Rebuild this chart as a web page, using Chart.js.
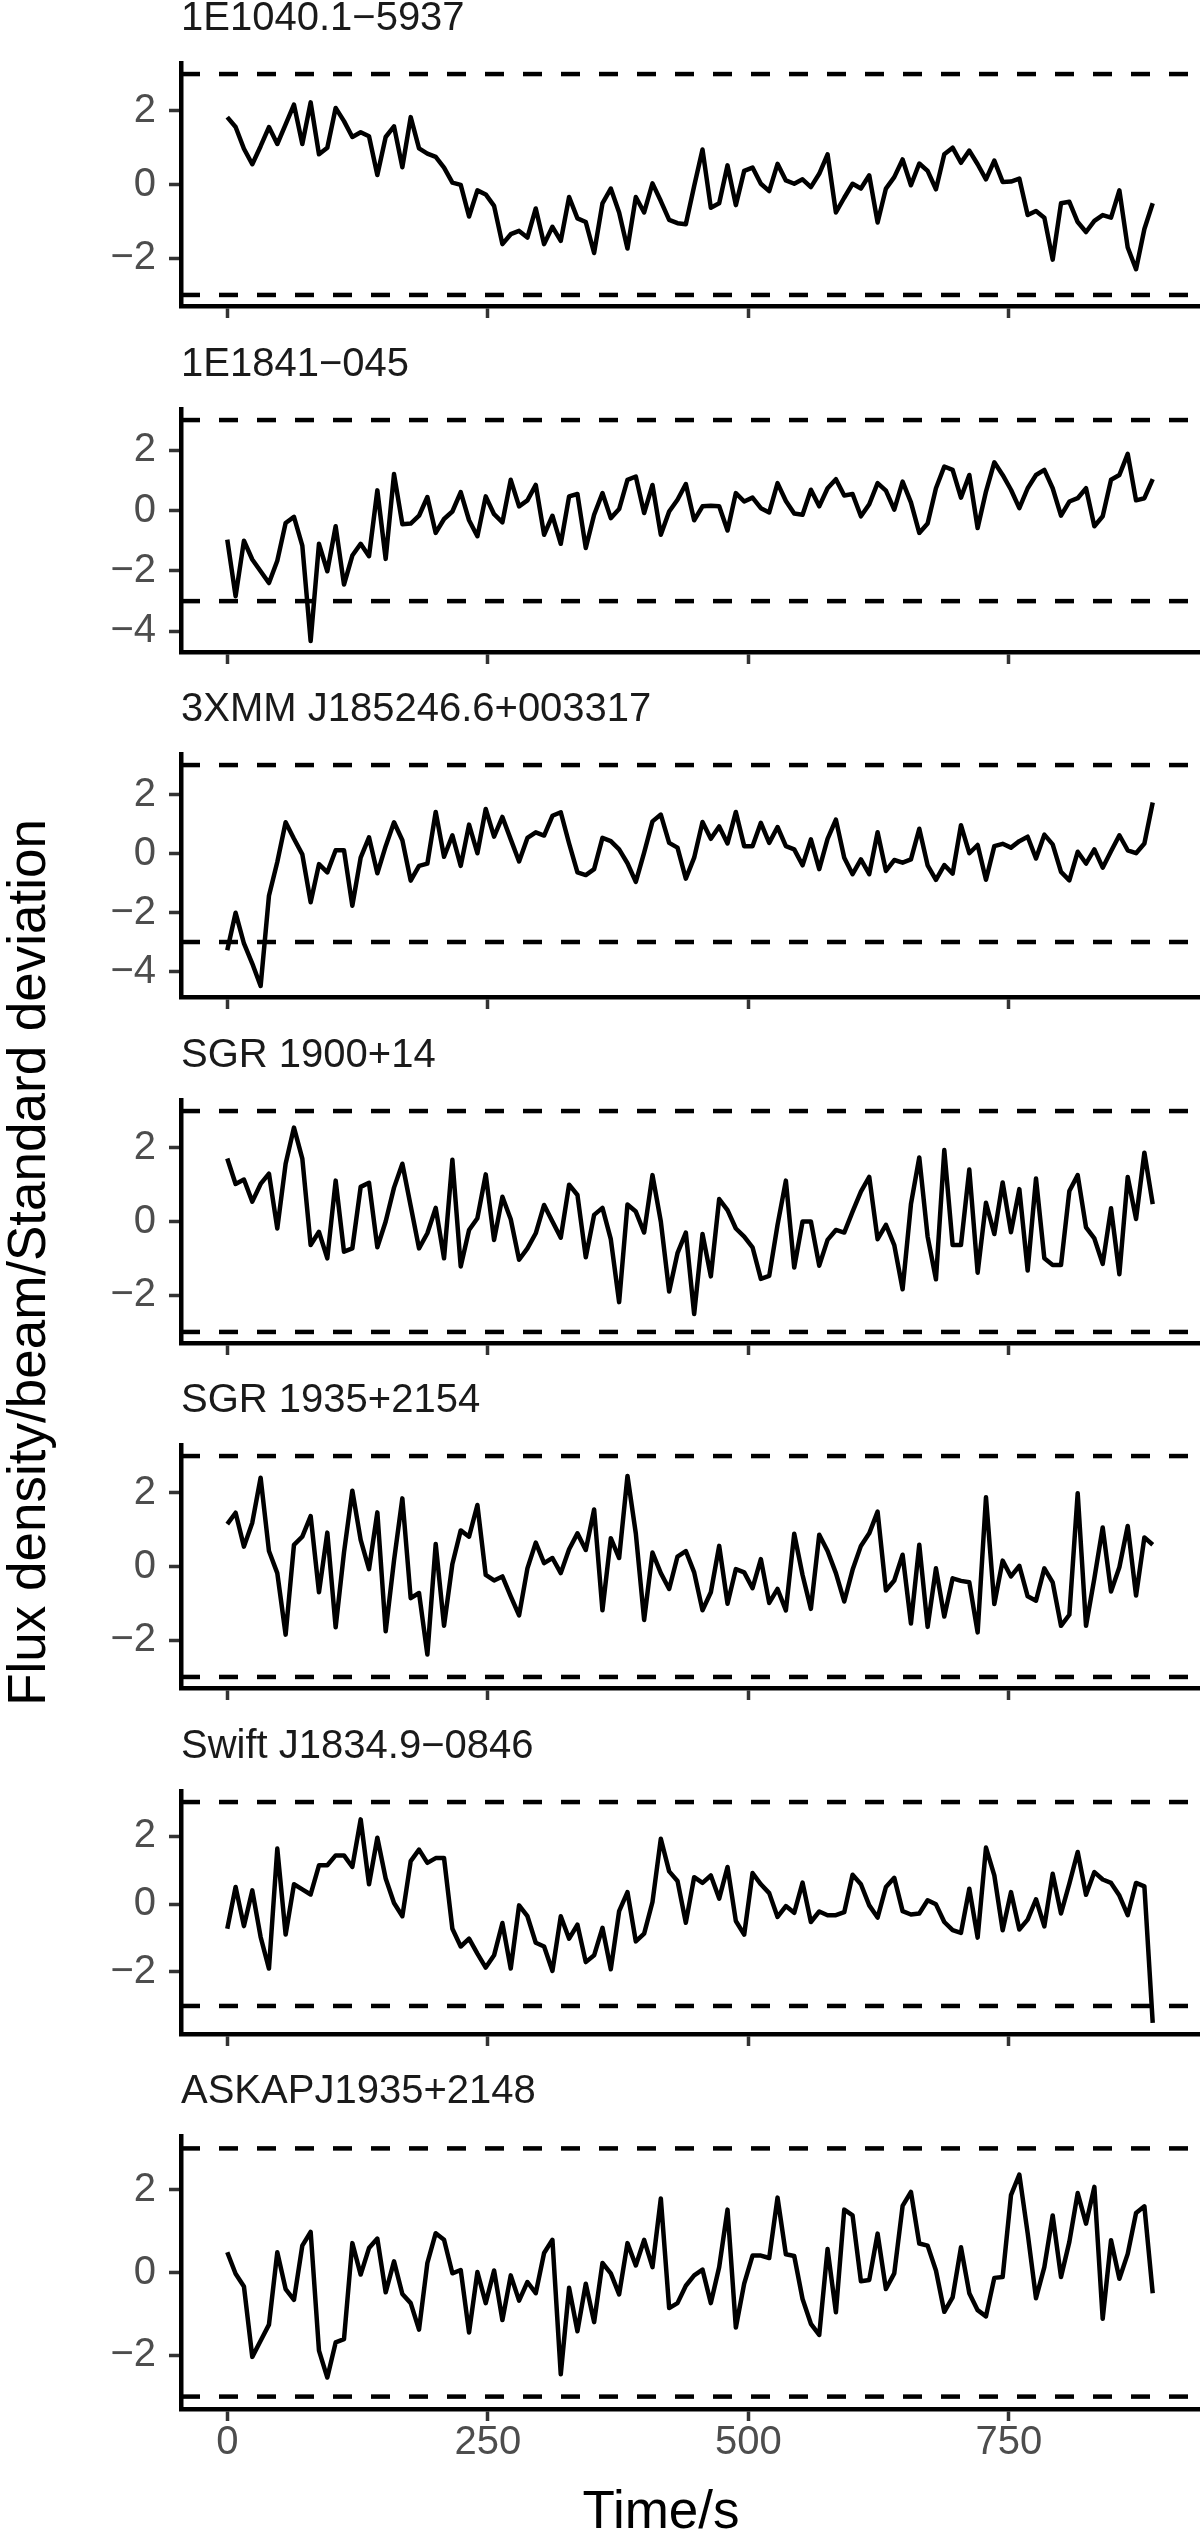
<!DOCTYPE html>
<html>
<head>
<meta charset="utf-8">
<script src="https://cdn.jsdelivr.net/npm/chart.js@4"></script>
<style>
  html, body { margin: 0; padding: 0; background: #fff; }
  #page { position: relative; width: 1200px; height: 2530px; overflow: hidden;
          font-family: 'Liberation Sans', Arial, sans-serif; }
  #page canvas { position: absolute; left: 0; }
  #ylab { position: absolute; left: 0; top: 63px; width: 53px; height: 2398px;
          display: flex; align-items: center; justify-content: center; }
  #ylab span { writing-mode: vertical-rl; transform: rotate(180deg); font-size: 53px;
               line-height: 1; white-space: nowrap; color: #000; }
  #xlab { position: absolute; left: 461px; width: 400px; top: 2483px; text-align: center;
          font-size: 53px; line-height: 1; color: #000; white-space: nowrap; }
</style>
</head>
<body>
<div id="page">
  <div id="ylab"><span>Flux density/beam/Standard deviation</span></div>
  <div id="xlab">Time/s</div>
</div>
<script>
// time grid (s)
const seconds = [0,8,16,24,32,40,48,56,64,72,
  80,88,96,104,112,120,128,136,144,152,
  160,168,176,184,192,200,208,216,224,232,
  240,248,256,264,272,280,288,296,304,312,
  320,328,336,344,352,360,368,376,384,392,
  400,408,416,424,432,440,448,456,464,472,
  480,488,496,504,512,520,528,536,544,552,
  560,568,576,584,592,600,608,616,624,632,
  640,648,656,664,672,680,688,696,704,712,
  720,728,736,744,752,760,768,776,784,792,
  800,808,816,824,832,840,848,856,864,872,
  880,888];

const sourceNames = ['1E1040.1\u22125937', '1E1841\u2212045', '3XMM J185246.6+003317',
  'SGR 1900+14', 'SGR 1935+2154', 'Swift J1834.9\u22120846', 'ASKAPJ1935+2148'];

const s1E1040 = [1.83,1.56,0.97,0.55,1.04,1.56,1.10,1.63,2.17,1.10,
  2.23,0.82,1.00,2.08,1.72,1.29,1.42,1.31,0.26,1.29,
  1.58,0.47,1.83,0.98,0.84,0.75,0.46,0.05,-0.01,-0.87,
  -0.16,-0.27,-0.58,-1.62,-1.35,-1.26,-1.44,-0.65,-1.62,-1.15,
  -1.53,-0.34,-0.92,-1.02,-1.86,-0.51,-0.11,-0.76,-1.74,-0.34,
  -0.76,0.03,-0.45,-0.96,-1.05,-1.08,-0.04,0.95,-0.63,-0.51,
  0.52,-0.56,0.37,0.46,0.02,-0.18,0.56,0.11,0.02,0.14,
  -0.07,0.29,0.82,-0.76,-0.36,0.02,-0.11,0.25,-1.03,-0.11,
  0.20,0.68,-0.02,0.57,0.37,-0.13,0.82,1.00,0.59,0.92,
  0.55,0.14,0.65,0.07,0.08,0.16,-0.83,-0.72,-0.90,-2.04,
  -0.51,-0.47,-1.02,-1.29,-0.99,-0.83,-0.90,-0.16,-1.71,-2.30,
  -1.21,-0.51];

const s1E1841 = [-0.96,-2.84,-1.00,-1.62,-2.01,-2.40,-1.66,-0.41,-0.21,-1.16,
  -4.32,-1.10,-2.01,-0.52,-2.45,-1.49,-1.10,-1.51,0.67,-1.60,
  1.21,-0.45,-0.43,-0.17,0.45,-0.74,-0.28,-0.03,0.61,-0.32,
  -0.85,0.47,-0.12,-0.39,1.02,0.14,0.34,0.85,-0.80,-0.17,
  -1.10,0.47,0.55,-1.24,-0.14,0.58,-0.25,0.05,1.02,1.13,
  -0.08,0.85,-0.80,-0.03,0.36,0.88,-0.32,0.14,0.16,0.14,
  -0.66,0.58,0.30,0.43,0.08,-0.06,0.91,0.32,-0.10,-0.14,
  0.69,0.14,0.74,1.04,0.50,0.55,-0.19,0.21,0.91,0.66,
  0.03,0.96,0.27,-0.74,-0.43,0.74,1.46,1.35,0.43,1.18,
  -0.58,0.63,1.60,1.18,0.69,0.08,0.74,1.18,1.35,0.74,
  -0.17,0.30,0.41,0.74,-0.52,-0.19,1.02,1.18,1.88,0.34,
  0.41,1.04];

const s3XMM = [-3.28,-2.01,-3.05,-3.73,-4.49,-1.43,-0.29,1.06,0.50,-0.03,
  -1.65,-0.36,-0.64,0.11,0.11,-1.77,-0.14,0.55,-0.67,0.25,
  1.06,0.45,-0.92,-0.42,-0.34,1.41,-0.11,0.62,-0.42,0.98,
  0.01,1.51,0.57,1.24,0.48,-0.27,0.53,0.72,0.61,1.28,
  1.40,0.34,-0.64,-0.73,-0.53,0.53,0.42,0.14,-0.33,-0.96,
  0.03,1.09,1.32,0.36,0.20,-0.85,-0.14,1.07,0.50,0.92,
  0.34,1.41,0.25,0.25,1.04,0.36,0.90,0.25,0.14,-0.40,
  0.48,-0.53,0.50,1.15,-0.14,-0.70,-0.20,-0.70,0.72,-0.59,
  -0.22,-0.31,-0.20,0.84,-0.40,-0.89,-0.39,-0.68,0.96,0.01,
  0.29,-0.89,0.25,0.33,0.20,0.42,0.57,-0.17,0.64,0.31,
  -0.62,-0.91,0.06,-0.34,0.14,-0.48,0.08,0.62,0.11,0.01,
  0.34,1.73];

const sSGR1900 = [1.71,1.02,1.14,0.54,1.02,1.30,-0.19,1.57,2.55,1.71,
  -0.64,-0.28,-1.00,1.11,-0.82,-0.73,0.94,1.05,-0.70,0.00,
  0.92,1.57,0.42,-0.73,-0.32,0.37,-1.00,1.68,-1.22,-0.23,
  0.09,1.28,-0.50,0.67,0.06,-1.04,-0.73,-0.32,0.45,0.00,
  -0.44,1.00,0.72,-0.97,0.18,0.37,-0.48,-2.19,0.46,0.27,
  -0.30,1.26,0.00,-1.90,-0.86,-0.30,-2.51,-0.34,-1.49,0.61,
  0.31,-0.19,-0.41,-0.70,-1.56,-1.48,-0.09,1.11,-1.25,0.00,
  0.00,-1.20,-0.50,-0.23,-0.30,0.27,0.81,1.21,-0.48,-0.09,
  -0.64,-1.84,0.47,1.74,-0.41,-1.57,1.94,-0.64,-0.64,1.41,
  -1.39,0.51,-0.34,1.06,-0.29,0.88,-1.33,1.17,-1.00,-1.18,
  -1.18,0.83,1.26,-0.16,-0.46,-1.15,0.36,-1.43,1.21,0.07,
  1.87,0.47];

const sSGR1935 = [1.15,1.46,0.54,1.19,2.41,0.42,-0.18,-1.85,0.59,0.81,
  1.37,-0.70,0.92,-1.65,0.38,2.06,0.72,-0.07,1.47,-1.76,
  0.16,1.85,-0.86,-0.72,-2.39,0.61,-1.61,0.07,0.98,0.81,
  1.67,-0.23,-0.38,-0.27,-0.81,-1.33,-0.05,0.65,0.09,0.23,
  -0.18,0.47,0.90,0.45,1.55,-1.19,0.77,0.23,2.46,0.90,
  -1.45,0.38,-0.18,-0.61,0.27,0.42,-0.16,-1.19,-0.70,0.56,
  -1.01,-0.07,-0.16,-0.59,0.20,-0.99,-0.61,-1.19,0.89,-0.23,
  -1.15,0.86,0.42,-0.18,-0.95,-0.09,0.56,0.90,1.49,-0.65,
  -0.38,0.32,-1.55,0.59,-1.64,-0.05,-1.36,-0.32,-0.39,-0.43,
  -1.79,1.88,-1.02,0.16,-0.27,0.02,-0.81,-0.93,-0.05,-0.43,
  -1.61,-1.31,1.99,-1.61,-0.32,1.06,-0.68,-0.02,1.10,-0.79,
  0.79,0.59];

const sSwift = [-0.73,0.50,-0.65,0.40,-0.97,-1.90,1.63,-0.90,0.58,0.43,
  0.28,1.14,1.14,1.43,1.43,1.09,2.49,0.58,1.95,0.75,
  0.03,-0.36,1.26,1.60,1.21,1.35,1.35,-0.73,-1.25,-1.02,
  -1.46,-1.87,-1.51,-0.56,-1.90,-0.04,-0.36,-1.14,-1.25,-1.97,
  -0.36,-1.02,-0.61,-1.71,-1.51,-0.70,-1.92,-0.21,0.35,-1.10,
  -0.87,0.06,1.92,0.96,0.68,-0.55,0.79,0.62,0.84,0.16,
  1.09,-0.50,-0.90,0.91,0.58,0.32,-0.38,-0.06,-0.26,0.63,
  -0.53,-0.22,-0.33,-0.33,-0.24,0.86,0.58,-0.04,-0.40,0.50,
  0.77,-0.21,-0.31,-0.28,0.11,-0.01,-0.53,-0.77,-0.85,0.45,
  -0.99,1.66,0.84,-0.77,0.35,-0.75,-0.46,0.14,-0.66,0.89,
  -0.28,0.60,1.53,0.27,0.94,0.72,0.62,0.25,-0.33,0.62,
  0.52,-3.50];

const sASKAP = [0.49,-0.03,-0.34,-2.04,-1.65,-1.26,0.49,-0.40,-0.66,0.65,
  0.98,-1.89,-2.54,-1.69,-1.61,0.71,-0.05,0.59,0.82,-0.48,
  0.27,-0.52,-0.74,-1.38,0.23,0.95,0.79,-0.02,0.06,-1.45,
  0.01,-0.74,0.05,-1.15,-0.07,-0.68,-0.23,-0.50,0.47,0.79,
  -2.46,-0.37,-1.42,-0.27,-1.20,0.23,-0.02,-0.53,0.71,0.17,
  0.79,0.13,1.79,-0.86,-0.74,-0.32,-0.07,0.07,-0.74,0.13,
  1.52,-1.33,-0.27,0.41,0.41,0.35,1.81,0.44,0.40,-0.64,
  -1.24,-1.51,0.57,-0.96,1.52,1.38,-0.21,-0.18,0.94,-0.40,
  -0.02,1.61,1.95,0.70,0.65,0.05,-0.95,-0.60,0.61,-0.50,
  -0.91,-1.06,-0.13,-0.11,1.87,2.37,0.95,-0.62,0.13,1.38,
  -0.11,0.74,1.92,1.18,2.07,-1.12,0.78,-0.15,0.45,1.44,
  1.60,-0.50];

const allSeries = [s1E1040, s1E1841, s3XMM, sSGR1900, sSGR1935, sSwift, sASKAP];
const thresholds = [3, -3];
const xTicks = [0, 250, 500, 750];
const yTicks = [-4, -2, 0, 2];

// panel geometry (px)
const firstPlotTop = 63, panelPitch = 345.5, plotH = 243, lastPlotH = 273;
const titleSpace = 63;

Chart.defaults.font.family = "'Liberation Sans', Arial, sans-serif";

// strip title drawn at the left edge of the plot area
const panelTitle = {
  id: 'panelTitle',
  afterDraw(chart, args, opts) {
    const ctx = chart.ctx;
    ctx.save();
    ctx.font = "40px 'Liberation Sans', Arial, sans-serif";
    ctx.fillStyle = '#1a1a1a';
    ctx.textAlign = 'left';
    ctx.textBaseline = 'alphabetic';
    ctx.fillText(opts.text, chart.chartArea.left, chart.chartArea.top - 33);
    ctx.restore();
  }
};

const fmtMinus = v => v < 0 ? '\u2212' + Math.abs(v) : String(v);

const tFirst = seconds[0], tLast = seconds[seconds.length - 1];
const xMin = tFirst - 0.05 * (tLast - tFirst);
const xMax = tLast + 0.05 * (tLast - tFirst);

const page = document.getElementById('page');

allSeries.forEach((vals, i) => {
  const last = i === allSeries.length - 1;
  const h = last ? lastPlotH : plotH;
  const bottomH = last ? 80 : 16;

  const canvas = document.createElement('canvas');
  canvas.width = 1200;
  canvas.height = titleSpace + h + bottomH;
  canvas.style.top = (Math.round(firstPlotTop + i * panelPitch) - titleSpace) + 'px';
  page.appendChild(canvas);

  const lo = Math.min(thresholds[1], ...vals);
  const hi = Math.max(thresholds[0], ...vals);
  const yPad = 0.05 * (hi - lo);

  const gridOpts = { drawOnChartArea: false, drawTicks: true, tickLength: 12, tickWidth: 3.5, tickColor: '#333333' };
  const borderOpts = { display: true, color: '#000000', width: 4.5 };

  const datasets = [{
    data: vals.map((v, k) => ({ x: seconds[k], y: v })),
    borderColor: '#000000', borderWidth: 4.5, pointRadius: 0, tension: 0,
    borderJoinStyle: 'round', fill: false
  }];
  thresholds.forEach(t => {
    datasets.push({
      data: [{ x: xMin, y: t }, { x: xMax, y: t }],
      borderColor: '#000000', borderWidth: 4.5, borderDash: [19, 19],
      pointRadius: 0, fill: false
    });
  });

  new Chart(canvas, {
    type: 'line',
    data: { datasets: datasets },
    plugins: [panelTitle],
    options: {
      responsive: false,
      animation: false,
      devicePixelRatio: 1,
      events: [],
      layout: { padding: { top: titleSpace, left: 0, right: 1, bottom: 0 } },
      plugins: {
        legend: { display: false },
        tooltip: { enabled: false },
        panelTitle: { text: sourceNames[i] }
      },
      scales: {
        x: {
          type: 'linear', min: xMin, max: xMax,
          afterBuildTicks: s => { s.ticks = xTicks.map(v => ({ value: v })); },
          afterFit: s => { s.height = bottomH; s.paddingLeft = 0; s.paddingRight = 0; },
          ticks: { display: last, color: '#4d4d4d', font: { size: 40, lineHeight: 1.1 },
                   padding: 0, autoSkip: false, maxRotation: 0 },
          grid: gridOpts,
          border: borderOpts
        },
        y: {
          min: lo - yPad, max: hi + yPad,
          afterBuildTicks: s => {
            s.ticks = yTicks.filter(v => v >= s.min && v <= s.max).map(v => ({ value: v }));
          },
          afterFit: s => { s.width = 181; s.paddingTop = 0; s.paddingBottom = 0; },
          ticks: { color: '#4d4d4d', font: { size: 40 }, padding: 13, callback: v => fmtMinus(v) },
          grid: gridOpts,
          border: borderOpts
        }
      }
    }
  });
});
</script>
</body>
</html>
